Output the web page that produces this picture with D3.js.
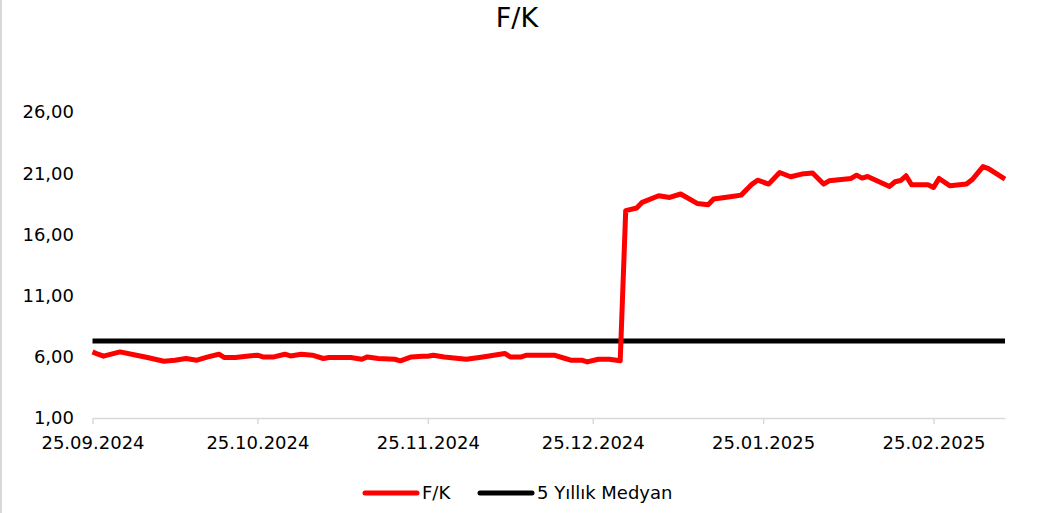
<!DOCTYPE html>
<html>
<head>
<meta charset="utf-8">
<script src="https://cdn.jsdelivr.net/npm/d3@7"></script>
<style>
  body { margin: 0; background: #fff; }
  text { font-family: "DejaVu Sans", sans-serif; fill: #000; }
</style>
</head>
<body>
<div id="chart"></div>
<script>
// F/K series (date, value)
const fkDates = [
  "2024-09-25", "2024-09-26", "2024-09-27", "2024-09-30", "2024-10-03", "2024-10-05",
  "2024-10-08", "2024-10-10", "2024-10-12", "2024-10-14", "2024-10-16", "2024-10-18",
  "2024-10-19", "2024-10-21", "2024-10-23", "2024-10-25", "2024-10-26", "2024-10-28",
  "2024-10-30", "2024-10-31", "2024-11-02", "2024-11-04", "2024-11-06", "2024-11-07",
  "2024-11-11", "2024-11-13", "2024-11-14", "2024-11-16", "2024-11-19", "2024-11-20",
  "2024-11-22", "2024-11-24", "2024-11-25", "2024-11-26", "2024-11-28", "2024-12-02",
  "2024-12-05", "2024-12-07", "2024-12-09", "2024-12-10", "2024-12-12", "2024-12-13",
  "2024-12-18", "2024-12-20", "2024-12-21", "2024-12-23", "2024-12-24", "2024-12-26",
  "2024-12-28", "2024-12-30", "2024-12-31", "2025-01-02", "2025-01-03", "2025-01-06",
  "2025-01-08", "2025-01-10", "2025-01-13", "2025-01-15", "2025-01-16", "2025-01-19",
  "2025-01-21", "2025-01-23", "2025-01-24", "2025-01-26", "2025-01-28", "2025-01-30",
  "2025-02-01", "2025-02-03", "2025-02-05", "2025-02-06", "2025-02-10", "2025-02-11",
  "2025-02-12", "2025-02-13", "2025-02-14", "2025-02-17", "2025-02-18", "2025-02-19",
  "2025-02-20", "2025-02-21", "2025-02-24", "2025-02-25", "2025-02-26", "2025-02-28",
  "2025-03-03", "2025-03-04", "2025-03-06", "2025-03-07", "2025-03-10"
];
const fkValues = [
  6.40, 6.21, 6.05, 6.40, 6.13, 5.94,
  5.64, 5.72, 5.86, 5.72, 5.99, 6.21,
  5.94, 5.94, 6.05, 6.13, 5.99, 5.99,
  6.21, 6.07, 6.21, 6.13, 5.86, 5.94,
  5.94, 5.80, 5.99, 5.86, 5.80, 5.67,
  5.99, 6.05, 6.05, 6.13, 5.99, 5.80,
  5.99, 6.13, 6.27, 5.99, 5.99, 6.13,
  6.13, 5.86, 5.72, 5.72, 5.58, 5.80,
  5.80, 5.67, 17.94, 18.16, 18.62, 19.16,
  19.02, 19.30, 18.53, 18.43, 18.89, 19.08,
  19.21, 20.11, 20.43, 20.11, 21.06, 20.71,
  20.93, 21.01, 20.11, 20.38, 20.57, 20.84,
  20.60, 20.73, 20.52, 19.92, 20.30, 20.40,
  20.79, 20.06, 20.06, 19.84, 20.57, 19.97,
  20.11, 20.46, 21.54, 21.38, 20.52
];
const medianValue = 7.30;

const yTicks = [1, 6, 11, 16, 21, 26];
const xTicks = ["2024-09-25", "2024-10-25", "2024-11-25", "2024-12-25", "2025-01-25", "2025-02-25"];
const xDomain = ["2024-09-25", "2025-03-10"];
const seriesNames = ["F/K", "5 Yıllık Medyan"];
const seriesColors = ["#ff0000", "#000000"];

const W = 1039, H = 513;
const parse = d3.timeParse("%Y-%m-%d");
const fmtDate = d3.timeFormat("%d.%m.%Y");
const fmtNum = d => d3.format(".2f")(d).replace(".", ",");

const data = fkDates.map((d, i) => ({ date: parse(d), value: fkValues[i] }));

const svg = d3.select("#chart")
  .append("svg")
  .attr("width", W)
  .attr("height", H);

svg.append("rect").attr("width", W).attr("height", H).attr("fill", "#fff");

// light left border of the chart frame
svg.append("line")
  .attr("x1", 1).attr("x2", 1)
  .attr("y1", 0).attr("y2", H)
  .attr("stroke", "#d9d9d9").attr("stroke-width", 2);

const x = d3.scaleTime()
  .domain(xDomain.map(parse))
  .range([92.5, 1005]);

const y = d3.scaleLinear()
  .domain([1, 26])
  .range([418, 112]);

// title
svg.append("text")
  .attr("x", 517)
  .attr("y", 27)
  .attr("text-anchor", "middle")
  .style("font-size", "27px")
  .text("F/K");

// y axis labels (no axis line)
svg.append("g")
  .selectAll("text")
  .data(yTicks)
  .enter()
  .append("text")
  .attr("x", 74)
  .attr("y", d => y(d))
  .attr("dy", "0.36em")
  .attr("text-anchor", "end")
  .style("font-size", "18px")
  .text(fmtNum);

// x axis
const xAxis = svg.append("g")
  .attr("transform", `translate(0,${y(1)})`)
  .call(d3.axisBottom(x)
    .tickValues(xTicks.map(parse))
    .tickSize(6)
    .tickSizeOuter(0)
    .tickPadding(12)
    .tickFormat(fmtDate));

xAxis.select(".domain").attr("stroke", "#d9d9d9").attr("stroke-width", 1.5);
xAxis.selectAll(".tick line").attr("stroke", "#d9d9d9").attr("stroke-width", 1.5);
xAxis.selectAll(".tick text")
  .style("font-size", "18px")
  .style("font-family", "DejaVu Sans, sans-serif")
  .attr("fill", "#000");

// median line
svg.append("line")
  .attr("x1", x.range()[0])
  .attr("x2", x.range()[1])
  .attr("y1", y(medianValue))
  .attr("y2", y(medianValue))
  .attr("stroke", seriesColors[1])
  .attr("stroke-width", 5);

// F/K line
const line = d3.line()
  .x(d => x(d.date))
  .y(d => y(d.value));

svg.append("path")
  .datum(data)
  .attr("fill", "none")
  .attr("stroke", seriesColors[0])
  .attr("stroke-width", 5)
  .attr("stroke-linejoin", "round")
  .attr("d", line);

// legend
const legendItems = [
  { name: seriesNames[0], color: seriesColors[0], x: 365 },
  { name: seriesNames[1], color: seriesColors[1], x: 480 }
];

const legend = svg.append("g")
  .selectAll("g")
  .data(legendItems)
  .enter()
  .append("g")
  .attr("transform", d => `translate(${d.x},493)`);

legend.append("line")
  .attr("x1", 0).attr("x2", 52)
  .attr("stroke", d => d.color)
  .attr("stroke-width", 5)
  .attr("stroke-linecap", "round");

legend.append("text")
  .attr("x", 57)
  .attr("dy", "0.36em")
  .style("font-size", "18px")
  .text(d => d.name);
</script>
</body>
</html>
